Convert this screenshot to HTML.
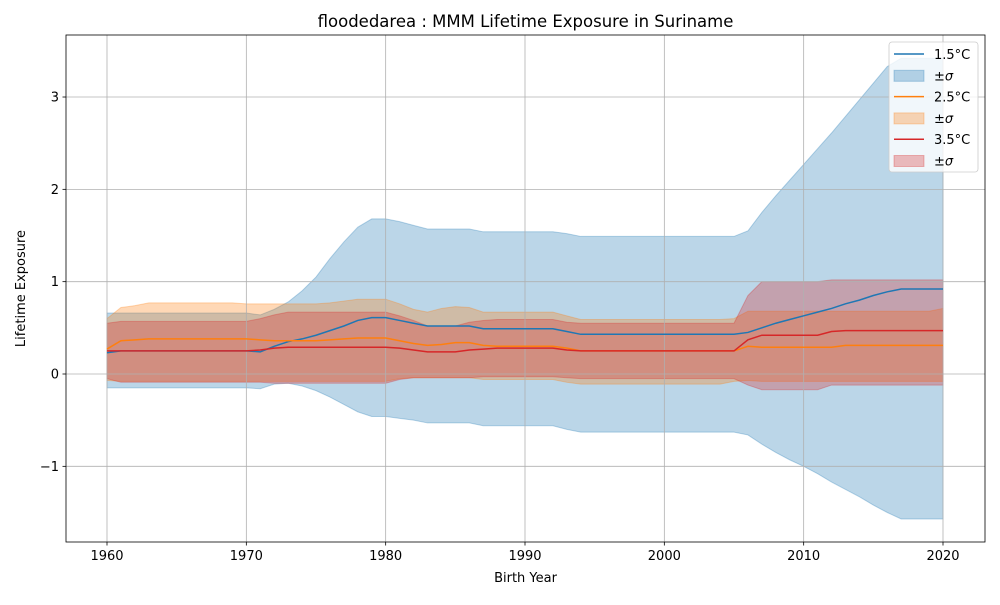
<!DOCTYPE html>
<html><head><meta charset="utf-8"><style>
body{margin:0;background:#fff;font-family:"Liberation Sans","DejaVu Sans",sans-serif}
svg text{font-family:"DejaVu Sans","Liberation Sans",sans-serif}
</style></head><body>
<svg id="chart" width="1000" height="600" xmlns="http://www.w3.org/2000/svg"></svg>
<script>
const years = [];
for (let y = 1960; y <= 2020; y++) years.push(y);
const mean15 = [.23,.25,.25,.25,.25,.25,.25,.25,.25,.25,.25,.24,.30,.35,.38,.42,.47,.52,.58,.61,.61,.58,.55,.52,.52,.52,.52,.49,.49,.49,.49,.49,.49,.46,.43,.43,.43,.43,.43,.43,.43,.43,.43,.43,.43,.43,.45,.50,.55,.59,.63,.67,.71,.76,.80,.85,.89,.92,.92,.92,.92];
const up15 = [.66,.66,.66,.66,.66,.66,.66,.66,.66,.66,.66,.64,.70,.78,.90,1.05,1.25,1.43,1.59,1.68,1.68,1.65,1.61,1.57,1.57,1.57,1.57,1.54,1.54,1.54,1.54,1.54,1.54,1.52,1.49,1.49,1.49,1.49,1.49,1.49,1.49,1.49,1.49,1.49,1.49,1.49,1.55,1.75,1.93,2.10,2.27,2.44,2.61,2.79,2.97,3.15,3.33,3.42,3.42,3.42,3.42];
const lo15 = [-.15,-.15,-.15,-.15,-.15,-.15,-.15,-.15,-.15,-.15,-.15,-.16,-.11,-.10,-.13,-.18,-.25,-.33,-.41,-.46,-.46,-.48,-.50,-.53,-.53,-.53,-.53,-.56,-.56,-.56,-.56,-.56,-.56,-.60,-.63,-.63,-.63,-.63,-.63,-.63,-.63,-.63,-.63,-.63,-.63,-.63,-.66,-.76,-.85,-.93,-1.0,-1.08,-1.17,-1.25,-1.33,-1.42,-1.50,-1.57,-1.57,-1.57,-1.57];
const mean25 = [.27,.36,.37,.38,.38,.38,.38,.38,.38,.38,.38,.37,.36,.36,.36,.36,.37,.38,.39,.39,.39,.36,.33,.31,.32,.34,.34,.31,.30,.30,.30,.30,.30,.28,.25,.25,.25,.25,.25,.25,.25,.25,.25,.25,.25,.25,.30,.29,.29,.29,.29,.29,.29,.31,.31,.31,.31,.31,.31,.31,.31];
const up25 = [.60,.72,.74,.77,.77,.77,.77,.77,.77,.77,.76,.76,.76,.76,.76,.76,.77,.79,.81,.81,.81,.76,.70,.67,.71,.73,.72,.67,.67,.67,.67,.67,.67,.63,.59,.59,.59,.59,.59,.59,.59,.59,.59,.59,.59,.60,.68,.68,.68,.68,.68,.68,.68,.68,.68,.68,.68,.68,.68,.68,.71];
const lo25 = [-.07,-.08,-.08,-.08,-.08,-.08,-.08,-.08,-.08,-.08,-.08,-.08,-.08,-.08,-.08,-.08,-.08,-.08,-.08,-.08,-.08,-.05,-.04,-.04,-.04,-.04,-.04,-.06,-.06,-.06,-.06,-.06,-.06,-.09,-.11,-.11,-.11,-.11,-.11,-.11,-.11,-.11,-.11,-.11,-.11,-.08,-.07,-.08,-.08,-.08,-.08,-.08,-.08,-.08,-.08,-.08,-.08,-.08,-.08,-.08,-.08];
const mean35 = [.25,.25,.25,.25,.25,.25,.25,.25,.25,.25,.25,.26,.28,.29,.29,.29,.29,.29,.29,.29,.29,.28,.26,.24,.24,.24,.26,.27,.28,.28,.28,.28,.28,.26,.25,.25,.25,.25,.25,.25,.25,.25,.25,.25,.25,.25,.37,.42,.42,.42,.42,.42,.46,.47,.47,.47,.47,.47,.47,.47,.47];
const up35 = [.55,.57,.57,.57,.57,.57,.57,.57,.57,.57,.57,.60,.64,.67,.67,.67,.67,.67,.67,.67,.67,.63,.58,.52,.52,.52,.56,.58,.59,.59,.59,.59,.59,.56,.55,.55,.55,.55,.55,.55,.55,.55,.55,.55,.55,.55,.85,1.0,1.0,1.0,1.0,1.0,1.02,1.02,1.02,1.02,1.02,1.02,1.02,1.02,1.02];
const lo35 = [-.05,-.09,-.09,-.09,-.09,-.09,-.09,-.09,-.09,-.09,-.09,-.09,-.10,-.10,-.10,-.10,-.10,-.10,-.10,-.10,-.10,-.06,-.04,-.04,-.04,-.04,-.04,-.03,-.03,-.03,-.03,-.03,-.03,-.04,-.05,-.05,-.05,-.05,-.05,-.05,-.05,-.05,-.05,-.05,-.05,-.05,-.12,-.17,-.17,-.17,-.17,-.17,-.12,-.12,-.12,-.12,-.12,-.12,-.12,-.12,-.12];
const xTicks = [1960,1970,1980,1990,2000,2010,2020];
const yTicks = [-1,0,1,2,3];
const yTickLabels = ["\u22121","0","1","2","3"];

const NS = "http://www.w3.org/2000/svg";
const svg = document.getElementById('chart');
const L=66,R=985,T=35,B=542;
const X = v => 107 + (v-1960)*(836/60);
const Y = v => 374 - v*92.33;
function mk(tag, attrs, parent){const e=document.createElementNS(NS,tag);for(const k in attrs)e.setAttribute(k,attrs[k]);(parent||svg).appendChild(e);return e;}

const series=[
 {m:mean15,u:up15,l:lo15,c:'#1f77b4',n:'1-5c'},
 {m:mean25,u:up25,l:lo25,c:'#ff7f0e',n:'2-5c'},
 {m:mean35,u:up35,l:lo35,c:'#d62728',n:'3-5c'}];
series.forEach(s=>{
  let d='M'+years.map((y,i)=>X(y)+','+Y(s.u[i])).join('L');
  for(let i=years.length-1;i>=0;i--) d+='L'+X(years[i])+','+Y(s.l[i]);
  d+='Z';
  const band=mk('path',{d:d,fill:s.c,'fill-opacity':0.3,stroke:s.c,'stroke-opacity':0.3,'stroke-width':1});
  
  
});

xTicks.forEach(t=>{
  const g=mk('line',{x1:X(t),x2:X(t),y1:T,y2:B,stroke:'#b0b0b0','stroke-width':0.8});
  
  
  mk('line',{x1:X(t),x2:X(t),y1:B,y2:B+3.5,stroke:'#000','stroke-width':0.8});
  const tx=mk('text',{x:X(t),y:B+18,'font-size':13,'text-anchor':'middle'});tx.textContent=t;
  
  
});
yTicks.forEach((t,i)=>{
  const g=mk('line',{x1:L,x2:R,y1:Y(t),y2:Y(t),stroke:'#b0b0b0','stroke-width':0.8});
  
  
  mk('line',{x1:L-3.5,x2:L,y1:Y(t),y2:Y(t),stroke:'#000','stroke-width':0.8});
  const tx=mk('text',{x:L-7,y:Y(t)+4.5,'font-size':13,'text-anchor':'end'});tx.textContent=yTickLabels[i];
  
  
});

series.forEach(s=>{
  const ln=mk('polyline',{points:years.map((y,i)=>X(y)+','+Y(s.m[i])).join(' '),fill:'none',stroke:s.c,'stroke-width':1.5});
  
  
});

const frame=mk('rect',{x:L,y:T,width:R-L,height:B-T,fill:'none',stroke:'#000','stroke-width':0.8});



const title=mk('text',{x:(L+R)/2,y:27,'font-size':16.5,'text-anchor':'middle'});title.textContent='floodedarea : MMM Lifetime Exposure in Suriname';


const xt=mk('text',{x:(L+R)/2,y:582,'font-size':13,'text-anchor':'middle'});xt.textContent='Birth Year';


const yt=mk('text',{x:0,y:0,'font-size':13,'text-anchor':'middle',transform:'translate(25,'+((T+B)/2)+') rotate(-90)'});yt.textContent='Lifetime Exposure';



const lg=mk('g',{});


mk('rect',{x:889,y:42,width:89,height:130,rx:3,fill:'#fff','fill-opacity':0.8,stroke:'#ccc','stroke-width':0.8},lg);
const labels=['1.5\u00B0C','\u00B1','2.5\u00B0C','\u00B1','3.5\u00B0C','\u00B1'];
labels.forEach((t,i)=>{
  const s=series[Math.floor(i/2)];const cy=54+i*21.3;
  let m;
  if(i%2===0) m=mk('line',{x1:894,x2:924,y1:cy,y2:cy,stroke:s.c,'stroke-width':1.5},lg);
  else m=mk('rect',{x:894,y:cy-5,width:30,height:11,fill:s.c,'fill-opacity':0.3,stroke:s.c,'stroke-opacity':0.3},lg);
  
  
  const tx=mk('text',{x:934,y:cy+5,'font-size':13},lg);tx.textContent=t;
  if(i%2===1){const sg=mk('tspan',{'font-style':'italic'},tx);sg.textContent='\u03C3';}
  
  
});
</script>
</body></html>
